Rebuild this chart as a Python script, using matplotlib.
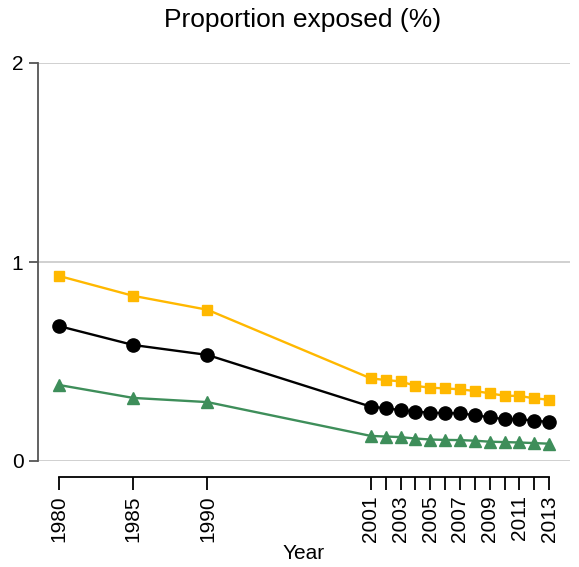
import numpy as np
import matplotlib
matplotlib.use('Agg')
import matplotlib.pyplot as plt

years = [1980, 1985, 1990, 2001, 2002, 2003, 2004, 2005, 2006, 2007, 2008, 2009, 2010, 2011, 2012, 2013]
upper = [0.93, 0.83, 0.76, 0.415, 0.407, 0.400, 0.378, 0.368, 0.365, 0.360, 0.352, 0.340, 0.328, 0.327, 0.315, 0.308]
mean = [0.678, 0.583, 0.533, 0.273, 0.265, 0.256, 0.248, 0.243, 0.240, 0.240, 0.230, 0.220, 0.210, 0.210, 0.203, 0.196]
lower = [0.382, 0.317, 0.296, 0.126, 0.123, 0.120, 0.113, 0.108, 0.106, 0.105, 0.102, 0.097, 0.095, 0.093, 0.090, 0.087]
tick_labels = ['1980', '1985', '1990', '2001', '', '2003', '', '2005', '', '2007', '', '2009', '', '2011', '', '2013']
y_ticks = [0, 1, 2]

plt.rcParams['font.family'] = ['Liberation Sans', 'DejaVu Sans']

W, H = 579, 567
fig = plt.figure(figsize=(W / 100, H / 100), dpi=100)
ax = fig.add_axes([38 / W, 1 - 461 / H, (570 - 38) / W, (461 - 63) / H])

ax.plot(years, upper, color='#FFB800', lw=1.7, marker='s', ms=7.5, clip_on=False, zorder=3)
ax.plot(years, mean, color='black', lw=1.7, marker='o', ms=9.5, clip_on=False, zorder=3)
ax.plot(years, lower, color='#3E8E5A', lw=1.7, marker='^', ms=9, clip_on=False, zorder=3)

ax.set_xlim(1978.59, 2014.41)
ax.set_ylim(0, 2)
for v in y_ticks:
    ax.axhline(v, color='#c8c8c8', lw=1.2, zorder=1)

for s in ['top', 'right']:
    ax.spines[s].set_visible(False)
ax.spines['left'].set_color('#555555')
ax.spines['left'].set_linewidth(1.3)
ax.spines['left'].set_bounds(0, 2)
ax.spines['bottom'].set_position(('outward', 11.5))
ax.spines['bottom'].set_bounds(1980, 2013)
ax.spines['bottom'].set_linewidth(1.3)

ax.set_yticks(y_ticks)
ax.set_yticklabels([str(v) for v in y_ticks])
ax.set_xticks(years)
ax.set_xticklabels(tick_labels, rotation=90)
ax.tick_params(axis='y', length=6.5, width=1.3, color='#555555', labelsize=15, pad=4)
ax.tick_params(axis='x', length=9, width=1.3, labelsize=15, pad=4)

ax.set_xlabel('Year', fontsize=15, labelpad=2)
fig.text(303 / W, 1 - 20 / H, 'Proportion exposed (%)', fontsize=19, ha='center', va='center')

fig.savefig('out.png', dpi=100)
